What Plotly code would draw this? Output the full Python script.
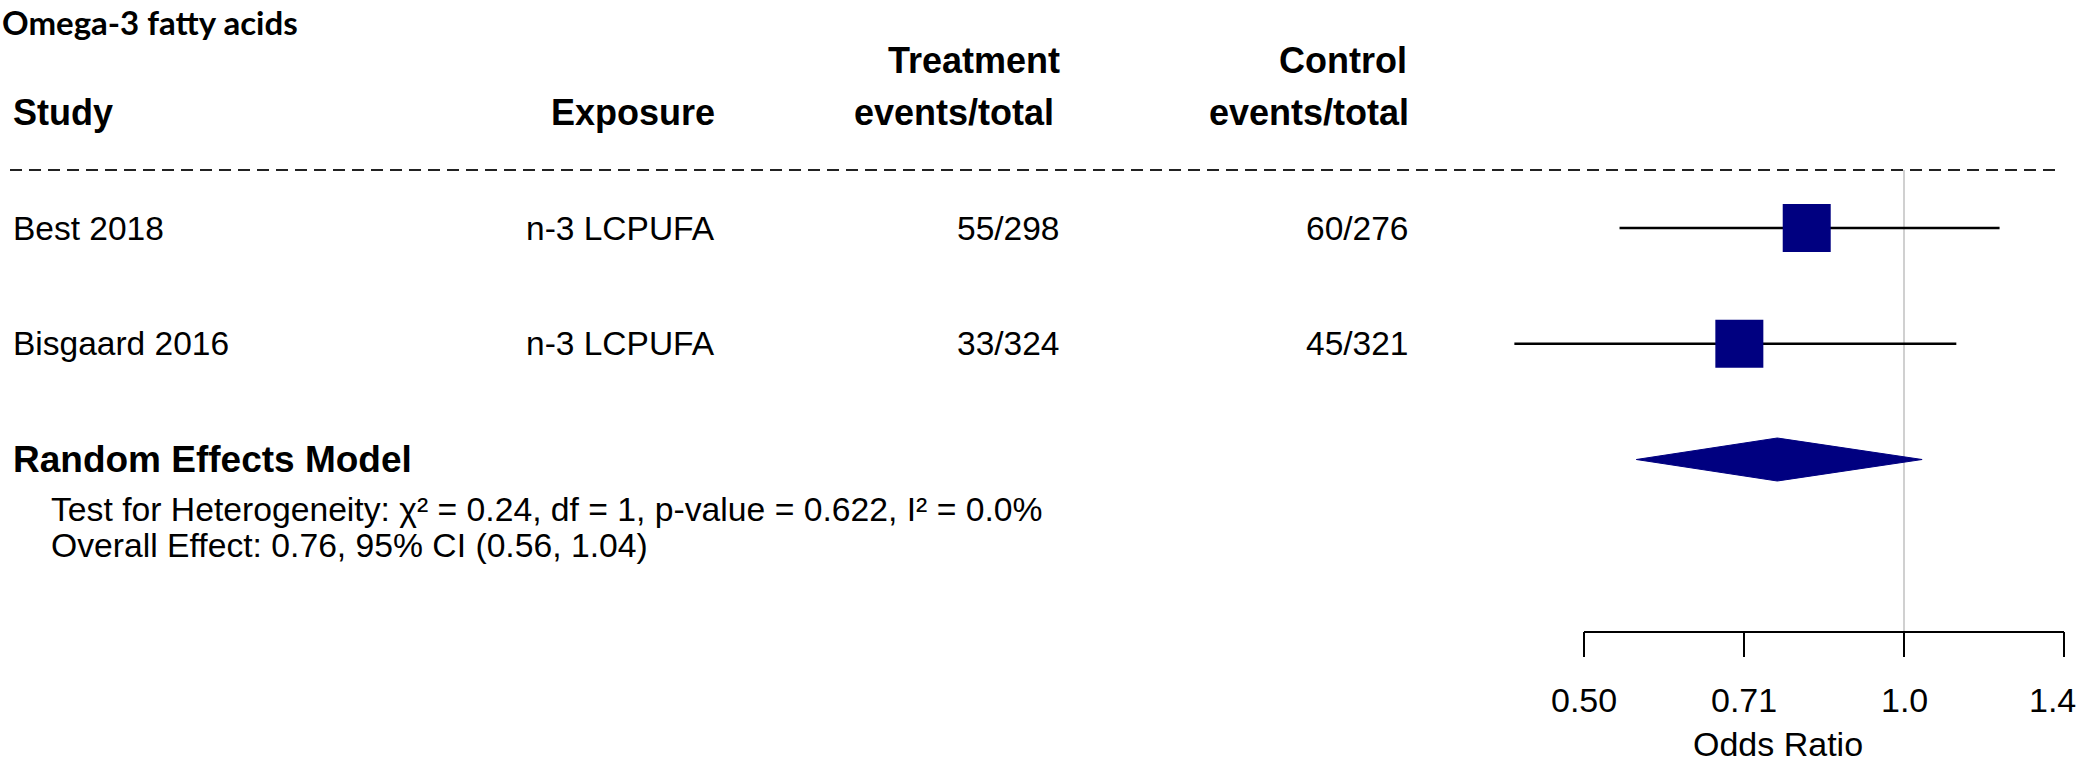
import math
import plotly.graph_objects as go

# ---------------- data ----------------
title_text = "Omega-3 fatty acids"
studies = ["Best 2018", "Bisgaard 2016"]
exposure = ["n-3 LCPUFA", "n-3 LCPUFA"]
treat_events = [55, 33]
treat_total = [298, 324]
ctrl_events = [60, 45]
ctrl_total = [276, 321]
or_est = [0.81, 0.70]
or_lo = [0.54, 0.43]
or_hi = [1.23, 1.12]
pooled_label = "Random Effects Model"
pooled_est, pooled_lo, pooled_hi = 0.76, 0.56, 1.04
het_text = "Test for Heterogeneity: \u03c7\u00b2 = 0.24, df = 1, p-value = 0.622, I\u00b2 = 0.0%"
overall_text = "Overall Effect: 0.76, 95% CI (0.56, 1.04)"
tick_vals = [0.5, 0.7071, 1.0, 1.4142]
tick_labels = ["0.50", "0.71", "1.0", "1.4"]
x_title = "Odds Ratio"
ref_value = 1.0

# ---------------- layout helpers ----------------
W, H = 2080, 768
ROW0_PX, ROW_STEP = 228.0, 115.75          # pixel row of first study, spacing
X1_PX, X_PER_LOG2 = 1904.0, 320.0          # pixel of OR=1, pixels per doubling


def prow(y_px):
    return (y_px - ROW0_PX) / ROW_STEP


def pxp(x_px):
    return x_px / W


def pyp(y_px):
    return 1 - y_px / H


xr = [math.log10(2 ** ((0 - X1_PX) / X_PER_LOG2)), math.log10(2 ** ((W - X1_PX) / X_PER_LOG2))]
yr = [prow(H), prow(0)]

FONT = "Liberation Sans, Arial, sans-serif"
NAVY = "#000080"
rows = list(range(len(studies)))
pooled_row = len(studies)

fig = go.Figure()

# CI lines
ci_x, ci_y = [], []
for r, lo, hi in zip(rows, or_lo, or_hi):
    ci_x += [lo, hi, None]
    ci_y += [r, r, None]
fig.add_trace(go.Scatter(x=ci_x, y=ci_y, mode="lines",
                         line=dict(color="black", width=2.5), hoverinfo="skip"))
# squares
fig.add_trace(go.Scatter(x=or_est, y=rows, mode="markers",
                         marker=dict(symbol="square", size=48, color=NAVY, line=dict(width=0)),
                         hoverinfo="skip"))
# diamond
h = 21.5 / ROW_STEP
fig.add_trace(go.Scatter(x=[pooled_lo, pooled_est, pooled_hi, pooled_est, pooled_lo],
                         y=[pooled_row, pooled_row - h, pooled_row, pooled_row + h, pooled_row],
                         mode="lines", fill="toself", fillcolor=NAVY,
                         line=dict(color=NAVY, width=1), hoverinfo="skip"))

# x axis (bracket style)
r_axis = prow(632)
tl = 25 / ROW_STEP
ax_x = [tick_vals[0], tick_vals[-1], None]
ax_y = [r_axis, r_axis, None]
for v in tick_vals:
    ax_x += [v, v, None]
    ax_y += [r_axis, r_axis + tl, None]
fig.add_trace(go.Scatter(x=ax_x, y=ax_y, mode="lines",
                         line=dict(color="black", width=2), hoverinfo="skip"))

shapes = [
    dict(type="line", xref="x", yref="y", x0=ref_value, x1=ref_value,
         y0=prow(170), y1=r_axis, line=dict(color="#d0d0d0", width=2), layer="below"),
    dict(type="line", xref="paper", yref="y", x0=pxp(10), x1=pxp(2062),
         y0=prow(170), y1=prow(170), line=dict(color="#222222", width=2, dash="12px,7px")),
]

ann = []


def add_text(text, x_px, y, xanchor, size, bold=False, family=FONT, yref="paper", yanchor="middle"):
    t = "<b>%s</b>" % text if bold else text
    ann.append(dict(text=t, x=pxp(x_px), xref="paper", y=y, yref=yref,
                    xanchor=xanchor, yanchor=yanchor, showarrow=False,
                    font=dict(family=family, size=size, color="black")))


add_text(title_text, 0, 1.0, "left", 33, bold=True, family="Lato, Open Sans, sans-serif",
         yanchor="top")
add_text("Treatment", 1062, pyp(60), "right", 36, bold=True)
add_text("Control", 1409, pyp(60), "right", 36, bold=True)
add_text("Study", 11, pyp(113), "left", 36, bold=True)
add_text("Exposure", 717, pyp(113), "right", 36, bold=True)
add_text("events/total", 1056, pyp(113), "right", 36, bold=True)
add_text("events/total", 1411, pyp(113), "right", 36, bold=True)

for r, s, e, te, tt, ce, ct in zip(rows, studies, exposure, treat_events, treat_total,
                                   ctrl_events, ctrl_total):
    add_text(s, 11, r, "left", 33.5, yref="y")
    add_text(e, 717, r, "right", 33.5, yref="y")
    add_text("%d/%d" % (te, tt), 1061, r, "right", 33.5, yref="y")
    add_text("%d/%d" % (ce, ct), 1410, r, "right", 33.5, yref="y")

add_text(pooled_label, 11, pooled_row, "left", 37, bold=True, yref="y")
add_text(het_text, 49, pyp(509), "left", 33.7)
add_text(overall_text, 49, pyp(545), "left", 33.7)
add_text(x_title, 1778, pyp(744), "center", 34)

# tick labels, positioned on the data axis
for i, (v, lab) in enumerate(zip(tick_vals, tick_labels)):
    last = i == len(tick_vals) - 1
    ann.append(dict(text=lab, x=math.log10(v), xref="x", y=pyp(700), yref="paper",
                    xanchor="right" if last else "center", xshift=14 if last else 0,
                    yanchor="middle", showarrow=False,
                    font=dict(family=FONT, size=34, color="black")))

fig.update_layout(
    width=W, height=H,
    margin=dict(l=0, r=0, t=0, b=0),
    paper_bgcolor="white", plot_bgcolor="white",
    showlegend=False,
    xaxis=dict(type="log", range=xr, visible=False, fixedrange=True),
    yaxis=dict(range=yr, visible=False, fixedrange=True),
    shapes=shapes, annotations=ann,
)

fig.write_html("out.html", config={"displayModeBar": False},
               post_script="document.body.style.margin='0px';")
